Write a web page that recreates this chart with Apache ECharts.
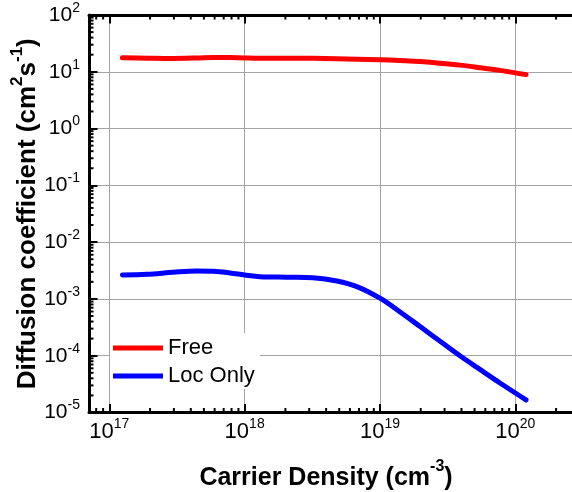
<!DOCTYPE html>
<html>
<head>
<meta charset="utf-8">
<script src="https://cdn.jsdelivr.net/npm/echarts@6/dist/echarts.min.js"></script>
<style>
  html, body { margin: 0; padding: 0; background: #fff; }
  #chart { width: 572px; height: 492px; }
</style>
</head>
<body>
<div id="chart"></div>
<script>
// Carrier density (cm^-3) sampled along both curves
const densities = [1.25e17, 1.9e17, 2.97e17, 4.43e17, 5.9e17, 7.8e17, 1.0e18, 1.3e18, 2.05e18, 3.2e18,
                   4.8e18, 6.75e18, 1.0e19, 1.4e19, 1.98e19, 2.78e19, 3.9e19, 5.5e19, 7.7e19, 1.2e20];
// Diffusion coefficient (cm^2 s^-1), free carriers
const freeD = [17.7, 17.4, 17.2, 17.5, 17.9, 17.8, 17.5, 17.3, 17.4, 17.3,
               17.0, 16.7, 16.3, 15.8, 15.2, 14.2, 13.1, 11.8, 10.6, 8.9];
// Diffusion coefficient (cm^2 s^-1), localized carriers only
const locD = [2.65e-3, 2.72e-3, 2.95e-3, 3.11e-3, 3.07e-3, 2.87e-3, 2.65e-3, 2.47e-3, 2.41e-3, 2.35e-3,
              2.07e-3, 1.65e-3, 1.03e-3, 5.96e-4, 3.26e-4, 1.80e-4, 1.0e-4, 5.69e-5, 3.31e-5, 1.67e-5];

const seriesNames = ['Free', 'Loc Only'];
const seriesColors = ['#ff0000', '#0000ff'];

// Axis ranges (decade exponents)
const xExpMin = 16.85, xExpMax = 20.5;
const yExpMin = -5, yExpMax = 2;
const X_MIN = Math.pow(10, xExpMin), X_MAX = Math.pow(10, xExpMax);
const Y_MIN = Math.pow(10, yExpMin), Y_MAX = Math.pow(10, yExpMax);

const FONT = '"Liberation Sans", Arial, Helvetica, sans-serif';
const MINOR_LEN = 4.5;

// Minor tick positions (2..9 x 10^n) inside each axis range
function minorTicks(e0, e1) {
  const out = [];
  for (let d = Math.floor(e0); d <= Math.ceil(e1); d++) {
    for (let m = 2; m <= 9; m++) {
      const v = m * Math.pow(10, d);
      const lv = Math.log10(v);
      if (lv > e0 && lv < e1) out.push(v);
    }
  }
  return out;
}
const xMinor = minorTicks(xExpMin, xExpMax);
const yMinor = minorTicks(yExpMin, yExpMax);

function powerLabel(v) {
  const lv = Math.log10(v);
  const e = Math.round(lv);
  if (Math.abs(lv - e) > 1e-6) return '';
  return '{b|10}{s|' + e + '}';
}

function tickLine(x1, y1, x2, y2) {
  return { type: 'line', shape: { x1, y1, x2, y2 }, style: { stroke: '#000', lineWidth: 2 } };
}

const gridStyle = { color: '#a3a3a3', width: 1 };

const chart = echarts.init(document.getElementById('chart'), null, { renderer: 'canvas' });

const option = {
  animation: false,
  backgroundColor: '#fff',
  textStyle: { fontFamily: FONT },
  grid: { left: 89, top: 15, width: 494, height: 397.5, outerBoundsMode: 'none', containLabel: false },
  legend: {
    data: seriesNames,
    orient: 'vertical',
    left: 110,
    top: 333,
    padding: [4, 5, 2, 3],
    itemGap: 6,
    itemWidth: 50,
    itemHeight: 5,
    icon: 'rect',
    selectedMode: false,
    backgroundColor: '#fff',
    textStyle: { fontFamily: FONT, fontSize: 22, color: '#000' }
  },
  xAxis: [
    {
      type: 'log',
      min: X_MIN,
      max: X_MAX,
      position: 'bottom',
      name: 'Carrier Density (cm{s|-3})',
      nameLocation: 'middle',
      nameGap: 53,
      nameMoveOverlap: false,
      nameTextStyle: {
        fontFamily: FONT, fontSize: 25, fontWeight: 'bold', color: '#000',
        padding: [0, 20, 0, 0],
        rich: {
          s: { fontFamily: FONT, fontSize: 16, fontWeight: 'bold', color: '#000', lineHeight: 16, padding: [0, 0, 22, 0] }
        }
      },
      axisLine: { show: true, lineStyle: { color: '#000', width: 3 } },
      axisTick: { show: true, inside: true, length: 8.5, lineStyle: { color: '#000', width: 2 } },
      axisLabel: {
        margin: 8,
        formatter: powerLabel,
        showMinLabel: false,
        showMaxLabel: false,
        rich: {
          b: { fontFamily: FONT, fontSize: 22, color: '#000' },
          s: { fontFamily: FONT, fontSize: 14, color: '#000', lineHeight: 14, padding: [0, 0, 14, 0] }
        }
      },
      splitLine: { show: true, lineStyle: gridStyle }
    },
    {
      type: 'log',
      min: X_MIN,
      max: X_MAX,
      position: 'top',
      axisLine: { show: true, lineStyle: { color: '#000', width: 3 } },
      axisTick: { show: true, inside: true, length: 8.5, lineStyle: { color: '#000', width: 2 } },
      axisLabel: { show: false },
      splitLine: { show: false }
    }
  ],
  yAxis: {
    type: 'log',
    min: Y_MIN,
    max: Y_MAX,
    name: 'Diffusion coefficient (cm{s|2}s{s|-1})',
    nameLocation: 'middle',
    nameRotate: 90,
    nameGap: 48,
    nameMoveOverlap: false,
    nameTextStyle: {
      fontFamily: FONT, fontSize: 26, fontWeight: 'bold', color: '#000',
      rich: {
        s: { fontFamily: FONT, fontSize: 17, fontWeight: 'bold', color: '#000', lineHeight: 17, padding: [0, 0, 22, 0] }
      }
    },
    axisLine: { show: true, lineStyle: { color: '#000', width: 3 } },
    axisTick: { show: true, inside: true, length: 8.5, lineStyle: { color: '#000', width: 2 } },
    axisLabel: {
      margin: 9,
      formatter: powerLabel,
      rich: {
        b: { fontFamily: FONT, fontSize: 21, color: '#000' },
        s: { fontFamily: FONT, fontSize: 14, color: '#000', lineHeight: 14, padding: [0, 0, 14, 0] }
      }
    },
    splitLine: { show: true, lineStyle: gridStyle }
  },
  series: [
    {
      name: seriesNames[0],
      type: 'line',
      color: seriesColors[0],
      data: densities.map((n, i) => [n, freeD[i]]),
      showSymbol: false,
      symbol: 'none',
      smooth: 0.35,
      lineStyle: { width: 5, color: seriesColors[0], cap: 'round' },
      z: 3
    },
    {
      name: seriesNames[1],
      type: 'line',
      color: seriesColors[1],
      data: densities.map((n, i) => [n, locD[i]]),
      showSymbol: false,
      symbol: 'none',
      smooth: 0.35,
      lineStyle: { width: 5, color: seriesColors[1], cap: 'round' },
      z: 3
    },
    {
      // minor ticks on the bottom and top axes
      type: 'custom',
      silent: true,
      clip: false,
      data: xMinor.map(v => [v, Y_MIN]),
      renderItem(params, api) {
        const v = api.value(0);
        const b = api.coord([v, Y_MIN]);
        const t = api.coord([v, Y_MAX]);
        return {
          type: 'group',
          children: [
            tickLine(b[0], b[1], b[0], b[1] - MINOR_LEN),
            tickLine(t[0], t[1], t[0], t[1] + MINOR_LEN)
          ]
        };
      },
      z: 4
    },
    {
      // minor ticks on the left axis
      type: 'custom',
      silent: true,
      clip: false,
      data: yMinor.map(v => [X_MIN, v]),
      renderItem(params, api) {
        const v = api.value(1);
        const l = api.coord([X_MIN, v]);
        return tickLine(l[0], l[1], l[0] + MINOR_LEN, l[1]);
      },
      z: 4
    }
  ]
};

chart.setOption(option);
</script>
</body>
</html>
